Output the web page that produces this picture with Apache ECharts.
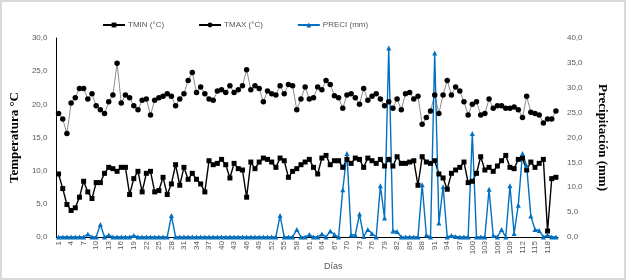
<!DOCTYPE html>
<html>
<head>
<meta charset="utf-8">
<script src="https://cdn.jsdelivr.net/npm/echarts@6/dist/echarts.min.js"></script>
<style>
  body { margin: 0; background: #fff; }
  #wrap { position: relative; width: 626px; height: 280px; }
  #line-chartClima { width: 626px; height: 280px; }
  #frame { position: absolute; left: 0; top: 0; width: 626px; height: 280px; box-sizing: border-box; border: 2px solid #d9d9d9; pointer-events: none; }
</style>
</head>
<body>
<div id="wrap">
  <div id="line-chartClima"></div>
  <div id="frame"></div>
</div>
<script>
// dias 1..120
var diasData = [];
for (var i = 1; i <= 120; i++) diasData.push(String(i));

var tminData = [
    9.5, 7.3, 4.9, 4.0, 4.4, 6.0, 8.4, 6.8, 5.8, 8.2,
    8.2, 9.6, 10.5, 10.3, 9.9, 10.5, 10.5, 6.4, 8.8, 9.9,
    6.8, 9.6, 9.9, 6.8, 7.0, 9.0, 6.4, 8.0, 10.9, 7.8,
    10.5, 8.7, 9.6, 8.7, 8.0, 6.8, 11.5, 10.9, 11.1, 11.7,
    10.9, 8.9, 11.1, 10.3, 10.1, 6.0, 11.3, 10.3, 11.3, 11.9,
    11.7, 11.3, 10.5, 11.9, 11.5, 9.0, 9.9, 10.3, 10.9, 11.3,
    11.7, 10.5, 9.5, 11.9, 12.3, 10.9, 11.5, 11.5, 10.5, 11.7,
    11.1, 11.9, 11.7, 10.5, 11.9, 11.5, 11.1, 11.7, 10.7, 11.7,
    10.7, 12.1, 11.1, 11.1, 11.3, 11.5, 7.8, 12.1, 11.3, 11.1,
    11.5, 9.5, 8.9, 7.2, 9.6, 10.1, 10.5, 11.3, 8.2, 8.4,
    9.6, 12.1, 10.1, 10.5, 9.9, 10.7, 11.5, 12.3, 10.5, 10.3,
    11.7, 11.9, 10.1, 11.3, 10.5, 11.1, 11.7, 0.9, 8.8, 9.0
];

var tmaxData = [
    18.6, 17.8, 15.6, 20.2, 21.0, 22.4, 22.4, 20.8, 21.6, 19.8,
    19.2, 18.6, 20.4, 21.4, 26.2, 20.2, 21.4, 21.0, 19.8, 19.2,
    20.6, 20.8, 18.4, 20.6, 21.0, 21.2, 21.6, 21.2, 19.8, 20.8,
    21.6, 23.6, 24.8, 21.8, 22.6, 21.6, 20.8, 20.6, 22.0, 22.2,
    21.8, 22.8, 21.8, 22.2, 22.8, 25.2, 22.2, 22.8, 22.4, 20.4,
    22.0, 21.6, 21.4, 22.8, 21.6, 23.0, 22.8, 19.2, 20.8, 22.6,
    20.8, 21.0, 22.6, 22.2, 23.6, 23.0, 21.3, 21.0, 19.4, 21.4,
    21.6, 21.0, 20.0, 22.4, 20.6, 21.2, 21.6, 20.8, 19.8, 20.4,
    19.4, 20.8, 19.2, 21.6, 21.8, 20.8, 21.2, 17.0, 18.0, 19.0,
    21.4, 18.6, 21.4, 23.6, 21.4, 22.6, 22.0, 20.4, 18.4, 20.0,
    20.4, 18.4, 18.6, 20.8, 19.4, 19.8, 19.8, 19.4, 19.4, 19.6,
    19.2, 18.0, 21.2, 18.8, 18.6, 18.4, 17.2, 17.8, 17.8, 19.0
];

var preciData = [
    0, 0, 0, 0, 0, 0, 0, 0.6, 0, 0,
    2.5, 0, 0.4, 0, 0, 0, 0, 0, 0.3, 0,
    0, 0, 0, 0, 0, 0, 0, 4.3, 0, 0,
    0, 0, 0, 0, 0, 0, 0, 0, 0, 0,
    0, 0, 0, 0, 0, 0, 0, 0, 0, 0,
    0, 0, 0, 4.3, 0, 0, 0, 1.5, 0, 0,
    0.5, 0, 0, 0.6, 0, 1.2, 0.5, 0, 9.5, 16.8,
    0.4, 0.4, 4.6, 0.1, 1.5, 0.7, 0, 10.3, 3.8, 38.0,
    1.2, 1.1, 0, 0, 0, 0, 0, 10.5, 0.4, 0,
    37.0, 2.8, 10.1, 0, 0.3, 0.1, 0, 0, 0, 20.8,
    0, 0, 0, 9.6, 0.3, 0, 1.5, 0, 10.3, 0.7,
    6.4, 16.8, 14.3, 4.2, 1.5, 1.3, 0, 0.4, 0, 0
];

function coma(v) {
    return v.toFixed(1).replace('.', ',');
}

var dom = document.getElementById("line-chartClima");
var chartClima = echarts.init(dom);
var tickFont = { fontFamily: 'Liberation Sans', fontSize: 8, color: '#595959' };
var option = {
    animation: false,
    legend: {
        left: 97,
        top: 16,
        itemWidth: 22,
        itemHeight: 6,
        itemGap: 34,
        textStyle: { fontFamily: 'Liberation Sans', fontSize: 8, color: '#595959', padding: [0, 0, 0, -2] },
        data: [
            { name: 'TMIN (°C)' },
            { name: 'TMAX (°C)', lineStyle: { color: '#000' } },
            { name: 'PRECI (mm)' }
        ]
    },
    grid: {
        left: 50,
        right: 68,
        top: 38,
        bottom: 43
    },
    xAxis: {
        type: 'category',
        boundaryGap: true,
        data: diasData,
        name: 'Días',
        nameLocation: 'middle',
        nameGap: 22,
        nameTextStyle: { fontFamily: 'Liberation Sans', fontSize: 9, color: '#595959', padding: [0, 0, 0, 52] },
        axisLine: { lineStyle: { color: '#000', width: 1 } },
        axisTick: { show: false },
        axisLabel: Object.assign({ interval: 2, rotate: 90, margin: 4 }, tickFont)
    },
    yAxis: [
        {
            type: 'value',
            min: 0,
            max: 30,
            interval: 5,
            name: 'Temperatura °C',
            nameLocation: 'middle',
            nameGap: 30,
            nameTextStyle: { fontFamily: 'Liberation Serif', fontWeight: 'bold', fontSize: 13, color: '#000' },
            axisLine: { show: true, lineStyle: { color: '#000', width: 1 } },
            axisTick: { show: false },
            splitLine: { show: false },
            axisLabel: Object.assign({ margin: 9, formatter: coma }, tickFont)
        },
        {
            type: 'value',
            min: 0,
            max: 40,
            interval: 5,
            position: 'right',
            name: 'Precipitación (mm)',
            nameLocation: 'middle',
            nameGap: 38,
            nameRotate: -90,
            nameTextStyle: { fontFamily: 'Liberation Serif', fontWeight: 'bold', fontSize: 13, color: '#000' },
            axisLine: { show: false },
            axisTick: { show: false },
            splitLine: { show: false },
            axisLabel: Object.assign({ margin: 9, formatter: coma }, tickFont)
        }
    ],
    series: [
        {
            name: 'TMIN (°C)',
            type: 'line',
            yAxisIndex: 0,
            data: tminData,
            symbol: 'rect',
            symbolSize: 5,
            showAllSymbol: true,
            lineStyle: { color: '#000', width: 1.4 },
            itemStyle: { color: '#000' }
        },
        {
            name: 'TMAX (°C)',
            type: 'line',
            yAxisIndex: 0,
            data: tmaxData,
            symbol: 'circle',
            symbolSize: 5.5,
            showAllSymbol: true,
            lineStyle: { color: '#8c8c8c', width: 1 },
            itemStyle: { color: '#000' }
        },
        {
            name: 'PRECI (mm)',
            type: 'line',
            yAxisIndex: 1,
            data: preciData,
            symbol: 'triangle',
            symbolSize: 5,
            showAllSymbol: true,
            lineStyle: { color: '#0070c0', width: 1.4 },
            itemStyle: { color: '#0070c0' }
        }
    ]
};
chartClima.setOption(option);
</script>
</body>
</html>
